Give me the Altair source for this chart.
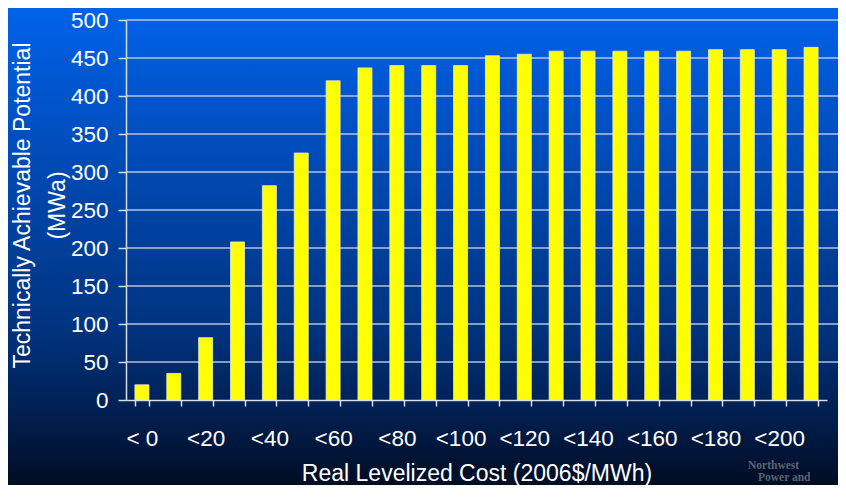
import altair as alt
import pandas as pd

categories = ["< 0", "<10", "<20", "<30", "<40", "<50", "<60", "<70", "<80", "<90", "<100",
              "<110", "<120", "<130", "<140", "<150", "<160", "<170", "<180", "<190", "<200", "<210"]
potential = [20, 35, 82, 208, 282, 325, 420, 437, 440, 440, 440,
             453, 455, 459, 459, 459, 459, 459, 461, 461, 461, 464]
y_ticks = [0, 50, 100, 150, 200, 250, 300, 350, 400, 450, 500]
shown_labels = categories[::2]

x_title = "Real Levelized Cost (2006$/MWh)"
y_title = ["Technically Achievable Potential", "(MWa)"]
logo_lines = ["Northwest", "Power and"]

df = pd.DataFrame({"cost": categories, "mwa": potential})
grid_df = pd.DataFrame({"mwa": y_ticks[1:]})
one = pd.DataFrame({"a": [0]})

W, H = 701, 380
PAD_L, PAD_T = 118, 12
TOTAL_W, TOTAL_H = 830, 477
FONT = "Liberation Sans"

y_axis = alt.Axis(
    title=y_title, values=y_ticks,
    labelFont=FONT, labelFontSize=22.5, labelColor="white", labelPadding=10,
    tickSize=8, tickColor="#d8dce8", tickWidth=1.5,
    domainColor="#d8dce8", domainWidth=1.5,
    titleFont=FONT, titleFontSize=23, titleFontWeight="normal", titleColor="white",
    titleAngle=270, titleX=-104, titleY=H / 2 - 5, titleAlign="center",
    titleBaseline="middle", titleLineHeight=35,
    zindex=1, grid=False,
)
y_scale = alt.Scale(domain=[0, 500], nice=False)

bg = alt.Chart(one).mark_rect(
    fill=alt.Gradient(
        gradient="linear",
        stops=[
            alt.GradientStop(color="#0062ea", offset=0),
            alt.GradientStop(color="#0048b0", offset=0.35),
            alt.GradientStop(color="#003480", offset=0.65),
            alt.GradientStop(color="#001a44", offset=0.87),
            alt.GradientStop(color="#000a1c", offset=1),
        ],
        x1=0, x2=0, y1=0, y2=1,
    ),
    strokeWidth=0,
).encode(
    x=alt.value(-PAD_L), x2=alt.value(TOTAL_W - PAD_L),
    y=alt.value(-PAD_T), y2=alt.value(TOTAL_H - PAD_T + 12),
)

grid = alt.Chart(grid_df).mark_rule(color="#c8d2e8", strokeWidth=1.5, opacity=0.9).encode(
    y=alt.Y("mwa:Q", axis=y_axis, scale=y_scale),
    x=alt.value(0), x2=alt.value(TOTAL_W - PAD_L),
)

label_list = "[" + ",".join("'" + s + "'" for s in shown_labels) + "]"

bars = alt.Chart(df).mark_bar(color="#ffff00", stroke="#e8e8c8", strokeWidth=0.8).encode(
    x=alt.X(
        "cost:N", sort=categories,
        scale=alt.Scale(paddingInner=0.56, paddingOuter=0.28),
        axis=alt.Axis(
            title=x_title, labelAngle=0, tickBand="extent",
            labelExpr="indexof(" + label_list + ", datum.value) >= 0 ? datum.value : ''",
            labelFont=FONT, labelFontSize=22.5, labelColor="white", labelPadding=21,
            tickSize=6, tickColor="#d8dce8", tickWidth=1.5,
            domainColor="#d8dce8", domainWidth=1.5,
            titleFont=FONT, titleFontSize=23, titleFontWeight="normal", titleColor="white",
            titleY=73, titleBaseline="middle",
            zindex=1, grid=False,
        ),
    ),
    y=alt.Y("mwa:Q", axis=y_axis, scale=y_scale),
)

logo1 = alt.Chart(one).mark_text(
    text=logo_lines[0], font="Liberation Serif", fontWeight="bold", fontSize=11.5,
    color="#5c6474", align="left", baseline="middle",
).encode(x=alt.value(622), y=alt.value(446))
logo2 = alt.Chart(one).mark_text(
    text=logo_lines[1], font="Liberation Serif", fontWeight="bold", fontSize=11.5,
    color="#5c6474", align="left", baseline="middle",
).encode(x=alt.value(632), y=alt.value(458))

chart = alt.layer(bg, grid, bars, logo1, logo2).properties(
    width=W, height=H,
    autosize=alt.AutoSizeParams(type="none"),
    padding={"left": PAD_L, "top": PAD_T, "right": TOTAL_W - PAD_L - W,
             "bottom": TOTAL_H - PAD_T - H},
    background="#000a1c",
).configure_view(stroke=None)

chart.save("out.html", embed_options={"renderer": "svg", "actions": False})
